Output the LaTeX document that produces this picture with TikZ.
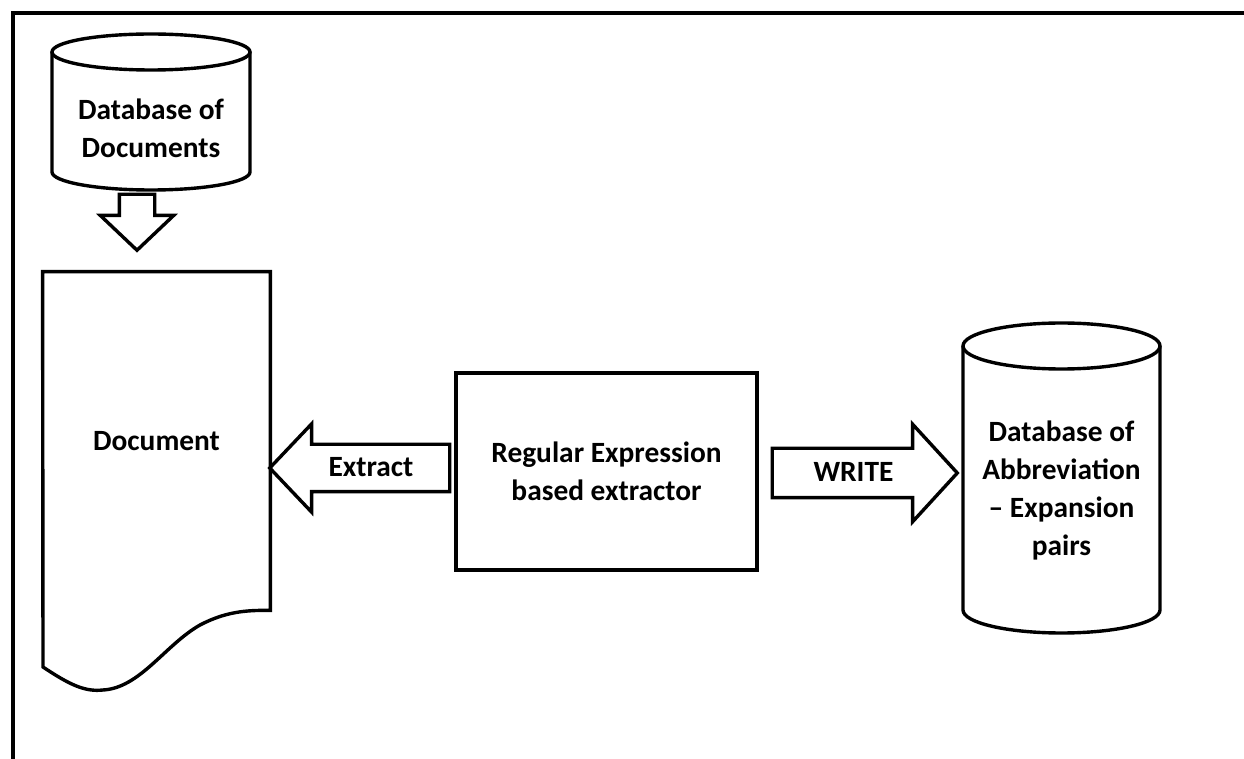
\documentclass[tikz,border=0pt]{standalone}
\usepackage{fontspec}
\setmainfont{Carlito}
\usetikzlibrary{shapes.arrows, calc}

\tikzset{
  % lines of all shapes
  outline/.style={draw, line width=1.7pt, line join=miter},
  frameline/.style={draw, line width=2pt},
  labeltext/.style={
    font=\fontsize{14.7}{19}\selectfont\bfseries,
    align=center, inner sep=0pt
  },
  % thick hollow arrows
  fatarrow/.style={
    outline, single arrow, single arrow tip angle=93,
    labeltext, text height=10pt, text depth=1pt
  },
}

\begin{document}
\begin{tikzpicture}[x=0.5pt, y=-0.5pt]
  \useasboundingbox (0,0) rectangle (1244,759);

  %% outer frame
  \draw[frameline] (13,759) -- (13,13) -- (1244,13);

  %% database of documents
  \draw[outline] (52,52) -- (52,172)
    arc[start angle=180, end angle=360, x radius=49.5pt, y radius=9pt] -- (250,52);
  \draw[outline] (151,52) ellipse[x radius=49.5pt, y radius=9pt];
  \node[labeltext, minimum width=99pt] (docdb) at (151,128) {Database of\\Documents};

  %% document
  \node[labeltext, minimum width=113.5pt, minimum height=169pt] (doc) at (156.5,441) {Document};
  \draw[outline] (doc.south east) -- (doc.north east) -- (doc.north west) -- (43,667)
    .. controls (70,685) and (85,692) .. (103,690)
    .. controls (140,688) and (165,645) .. (200,625)
    .. controls (225,612) and (245,610) .. (doc.south east) -- cycle;

  %% extractor
  \node[outline, labeltext, minimum width=150.5pt, minimum height=98.5pt] (regex)
    at (606.5,471.5) {Regular Expression\\based extractor};

  %% database of pairs
  \draw[outline] (963,346) -- (963,610)
    arc[start angle=180, end angle=360, x radius=49.25pt, y radius=11.5pt] -- (1160,346);
  \draw[outline] (1061.5,346) ellipse[x radius=49.25pt, y radius=11.5pt];
  \node[labeltext, minimum width=98.5pt] (abbrdb) at (1061.5,490)
    {Database of\\Abbreviation\\-- Expansion\\pairs};

  %% arrows
  \node[fatarrow, shape border rotate=270, inner sep=8pt, text height=0pt, text depth=0pt,
        single arrow head extend=9.5pt, minimum height=28pt, anchor=tip]
    (fetch) at ([xshift=-9.75pt, yshift=9.5pt]doc.north) {};
  \node[fatarrow, shape border rotate=180, inner ysep=5.5pt, inner xsep=4pt,
        single arrow head extend=10.25pt, minimum height=90pt, anchor=tip]
    (extract) at ([xshift=-1.5pt, yshift=1.75pt]doc.east |- regex.west) {Extract};
  \node[fatarrow, inner ysep=6pt, inner xsep=4pt, single arrow tip angle=95,
        single arrow head extend=12pt, minimum height=92.5pt, anchor=tip]
    (write) at ([xshift=-1.5pt, yshift=-0.75pt]abbrdb.west |- regex.east) {WRITE};
\end{tikzpicture}
\end{document}
